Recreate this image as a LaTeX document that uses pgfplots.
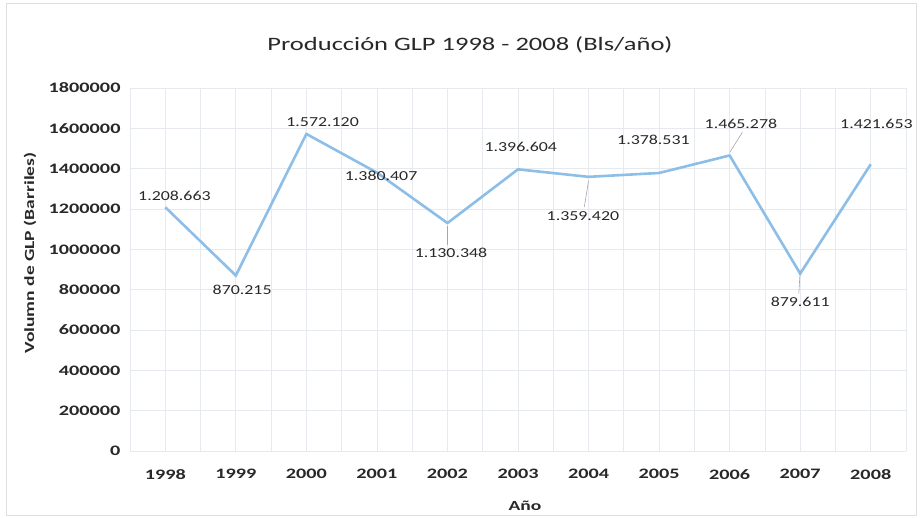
\documentclass[border=0pt]{standalone}
\usepackage{fontspec}
\setmainfont{Carlito}[FakeStretch=1.4]
\newfontfamily\lblfont{Carlito}[FakeStretch=1.3]
\usepackage{pgfplots}
\pgfplotsset{compat=1.18}
\definecolor{linec}{RGB}{140,190,232}
\definecolor{gridc}{RGB}{230,234,238}
\definecolor{txtc}{RGB}{40,40,40}
\begin{document}
\begin{tikzpicture}[x=1bp,y=1bp]
\path (0,0) rectangle (920,518);
\draw[gray!25] (6,3) rectangle (916,515);
\node[font=\fontsize{19}{22}\selectfont, text=txtc] at (470,473) {Producción GLP 1998 - 2008 (Bls/año)};
\node[font=\bfseries\fontsize{14}{16}\selectfont, text=txtc] at (525,12) {Año};
\node[font=\bfseries\fontsize{14}{16}\selectfont, text=txtc, rotate=90] at (30,265) {Volumn de GLP (Barriles)};
\begin{axis}[
  at={(130bp,67bp)}, anchor=south west,
  scale only axis, width=776bp, height=363bp,
  xmin=-0.5, xmax=10.5, ymin=0, ymax=1800000,
  xtick={0,...,10},
  xticklabels={1998,1999,2000,2001,2002,2003,2004,2005,2006,2007,2008},
  ytick={0,200000,400000,600000,800000,1000000,1200000,1400000,1600000,1800000},
  yticklabels={0,200000,400000,600000,800000,1000000,1200000,1400000,1600000,1800000},
  minor xtick={-0.5,0.5,...,10.5},
  scaled y ticks=false,
  ticklabel style={font=\bfseries\fontsize{14.5}{16}\selectfont, text=txtc},
  yticklabel style={xshift=-6bp},
  xticklabel style={yshift=-15bp},
  major tick length=0pt, minor tick length=0pt,
  grid=both,
  major grid style={gridc, line width=0.8bp},
  minor grid style={gridc, line width=0.8bp},
  axis line style={draw=none},
  clip=false,
]
\addplot[linec, line width=2.6bp, mark=none] coordinates {
(0,1208663) (1,870215) (2,1572120) (3,1380407) (4,1130348) (5,1396604)
(6,1359420) (7,1378531) (8,1465278) (9,879611) (10,1421653)};
\draw[gray!70, line width=0.6bp] (axis cs:4,1115000) -- (axis cs:4,1020000);
\draw[gray!70, line width=0.6bp] (axis cs:6,1340000) -- (axis cs:5.94,1210000);
\draw[gray!70, line width=0.6bp] (axis cs:8,1480000) -- (axis cs:8.18,1580000);
\draw[gray!70, line width=0.6bp] (axis cs:9,895000) -- (axis cs:8.98,780000);
\begin{scope}[every node/.style={font=\lblfont\fontsize{13.8}{15}\selectfont, text=txtc, inner sep=1bp}]
\node at (axis cs:0.13,1264000) {1.208.663};
\node at (axis cs:1.09,798000) {870.215};
\node at (axis cs:2.23,1631000) {1.572.120};
\node at (axis cs:3.06,1364000) {1.380.407};
\node at (axis cs:4.05,982000) {1.130.348};
\node at (axis cs:5.04,1507000) {1.396.604};
\node at (axis cs:5.92,1165000) {1.359.420};
\node at (axis cs:6.92,1542000) {1.378.531};
\node at (axis cs:8.16,1621000) {1.465.278};
\node at (axis cs:9.0,739000) {879.611};
\node[anchor=west] at (axis cs:9.55,1621000) {1.421.653};
\end{scope}
\end{axis}
\end{tikzpicture}
\end{document}
